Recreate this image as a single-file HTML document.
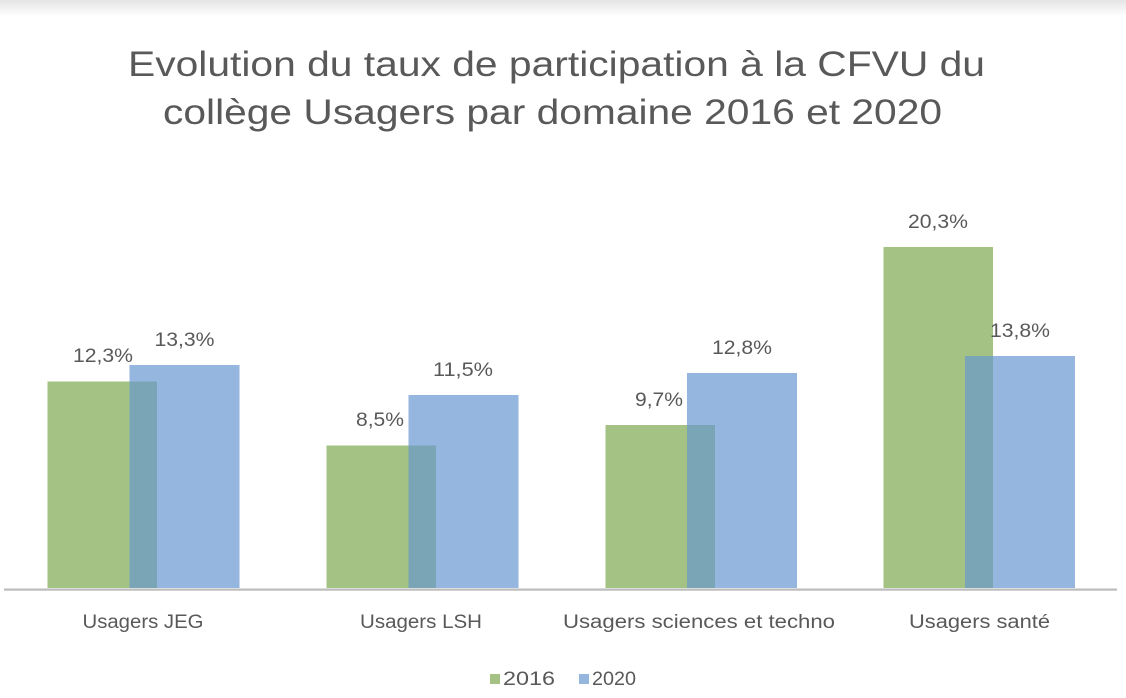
<!DOCTYPE html>
<html>
<head>
<meta charset="utf-8">
<style>
html,body{margin:0;padding:0;background:#fff;}
svg{display:block;}
text{font-family:"Liberation Sans", sans-serif;fill:#595959;}
</style>
</head>
<body>
<svg width="1126" height="698" viewBox="0 0 1126 698" xmlns="http://www.w3.org/2000/svg">
  <defs>
    <linearGradient id="topg" x1="0" y1="0" x2="0" y2="1">
      <stop offset="0" stop-color="#e4e4e4"/>
      <stop offset="1" stop-color="#ffffff"/>
    </linearGradient>
  </defs>
  <rect x="0" y="0" width="1126" height="698" fill="#fff"/>
  <rect x="0" y="0" width="1126" height="16" fill="url(#topg)"/>

  <!-- Title -->
  <text x="128" y="76" font-size="35" textLength="857" lengthAdjust="spacingAndGlyphs">Evolution du taux de participation à la CFVU du</text>
  <text x="163" y="124" font-size="35" textLength="779" lengthAdjust="spacingAndGlyphs">collège Usagers par domaine 2016 et 2020</text>

  <!-- Group 1: JEG -->
  <rect x="47.5" y="381.5" width="109.5" height="206.5" fill="#a3c284"/>
  <rect x="129.5" y="365" width="110" height="223" fill="#95b6de"/>
  <rect x="129.5" y="381.5" width="27.5" height="206.5" fill="#79a5b6"/>
  <!-- Group 2: LSH -->
  <rect x="326.5" y="445.5" width="109.5" height="142.5" fill="#a3c284"/>
  <rect x="408.5" y="395" width="110" height="193" fill="#95b6de"/>
  <rect x="408.5" y="445.5" width="27.5" height="142.5" fill="#79a5b6"/>
  <!-- Group 3: sciences -->
  <rect x="605.5" y="425" width="109.5" height="163" fill="#a3c284"/>
  <rect x="687" y="373" width="110" height="215" fill="#95b6de"/>
  <rect x="687" y="425" width="28" height="163" fill="#79a5b6"/>
  <!-- Group 4: santé -->
  <rect x="883.5" y="247" width="109.5" height="341" fill="#a3c284"/>
  <rect x="965" y="356" width="110" height="232" fill="#95b6de"/>
  <rect x="965" y="356" width="28" height="232" fill="#79a5b6"/>

  <!-- Axis -->
  <rect x="4" y="588.5" width="1113" height="2.2" fill="#bcbcbc"/>

  <!-- Data labels -->
  <g font-size="19" text-anchor="middle">
    <text x="103" y="362" textLength="60" lengthAdjust="spacingAndGlyphs">12,3%</text>
    <text x="184.5" y="346" textLength="60" lengthAdjust="spacingAndGlyphs">13,3%</text>
    <text x="380" y="426" textLength="48" lengthAdjust="spacingAndGlyphs">8,5%</text>
    <text x="463" y="376" textLength="60" lengthAdjust="spacingAndGlyphs">11,5%</text>
    <text x="659" y="406" textLength="48" lengthAdjust="spacingAndGlyphs">9,7%</text>
    <text x="742" y="354" textLength="60" lengthAdjust="spacingAndGlyphs">12,8%</text>
    <text x="938" y="228" textLength="60" lengthAdjust="spacingAndGlyphs">20,3%</text>
    <text x="1020" y="337" textLength="60" lengthAdjust="spacingAndGlyphs">13,8%</text>
  </g>

  <!-- Category labels -->
  <g font-size="19" text-anchor="middle">
    <text x="143" y="628" textLength="121" lengthAdjust="spacingAndGlyphs">Usagers JEG</text>
    <text x="421" y="628" textLength="122" lengthAdjust="spacingAndGlyphs">Usagers LSH</text>
    <text x="699" y="628" textLength="272" lengthAdjust="spacingAndGlyphs">Usagers sciences et techno</text>
    <text x="979.5" y="628" textLength="141" lengthAdjust="spacingAndGlyphs">Usagers santé</text>
  </g>

  <!-- Legend -->
  <rect x="490" y="674" width="10" height="10" fill="#a3c284"/>
  <text x="503" y="685" font-size="19" textLength="52" lengthAdjust="spacingAndGlyphs">2016</text>
  <rect x="579" y="674" width="10" height="10" fill="#95b6de"/>
  <text x="592" y="685" font-size="19" textLength="44" lengthAdjust="spacingAndGlyphs">2020</text>
</svg>
</body>
</html>
